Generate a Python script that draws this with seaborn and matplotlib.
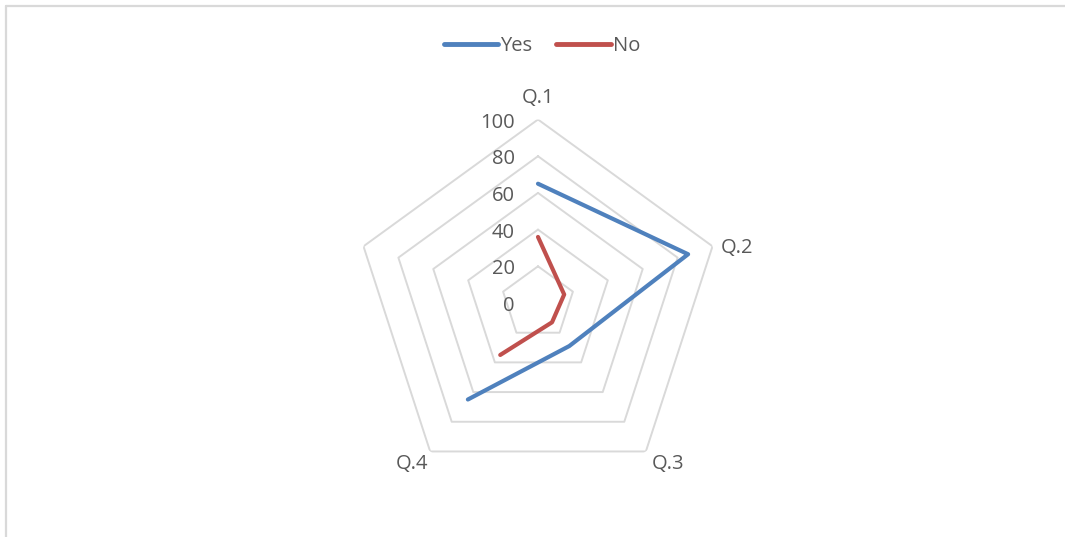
import numpy as np
import pandas as pd
import matplotlib
matplotlib.use("Agg")
import matplotlib.pyplot as plt
from matplotlib.lines import Line2D
import seaborn as sns

# ---- data ----
categories = ["Q.1", "Q.2", "Q.3", "Q.4", ""]
yes_values = [65, 86, 29, 65, np.nan]
no_values = [36, 15, 13, 35, np.nan]
ring_values = [20, 40, 60, 80, 100]
tick_labels = ["0", "20", "40", "60", "80", "100"]
series_names = ["Yes", "No"]

sns.set_theme(style="white")
plt.rcParams["font.family"] = ["Open Sans", "DejaVu Sans"]

TEXT = "#595959"
GRID = "#D9D9D9"
BLUE = "#4F81BD"
RED = "#C0504D"
FS = 14.5

W, H = 1065, 537
fig = plt.figure(figsize=(W / 100, H / 100), dpi=100)

cx, cy, R = 538, 303, 183.5
ax = fig.add_axes([(cx - R) / W, 1 - (cy + R) / H, 2 * R / W, 2 * R / H],
                  projection="polar")
ax.set_theta_zero_location("N")
ax.set_theta_direction(-1)
ax.set_ylim(0, 100)
ax.grid(False)
ax.set_xticks([])
ax.set_yticks([])
ax.spines["polar"].set_visible(False)
ax.patch.set_alpha(0)

n = len(categories)
angles = np.arange(n) * 2 * np.pi / n

# pentagon rings
for rv in ring_values:
    th = np.append(angles, angles[0])
    ax.plot(th, [rv] * (n + 1), color=GRID, lw=1.4, zorder=1)

# series
df = pd.DataFrame({
    "theta": np.concatenate([angles, angles]),
    "value": yes_values + no_values,
    "series": [series_names[0]] * n + [series_names[1]] * n,
}).dropna()
sns.lineplot(data=df, x="theta", y="value", hue="series",
             palette={"Yes": BLUE, "No": RED}, sort=False, estimator=None,
             lw=3, ax=ax, legend=False, zorder=3,
             solid_capstyle="round", solid_joinstyle="round")
ax.set_xlabel("")
ax.set_ylabel("")
ax.set_ylim(0, 100)

# radial tick labels
for i, lab in enumerate(tick_labels):
    ax.annotate(lab, xy=(0, i * 20), xytext=(-23, -3), textcoords="offset pixels",
                ha="right", va="center", fontsize=FS, color=TEXT)

# category labels
offsets = {
    0: ((0, 22), "center", "center"),
    1: ((8, -2), "left", "center"),
    2: ((6, -13), "left", "center"),
    3: ((-2, -13), "right", "center"),
    4: ((-8, -2), "right", "center"),
}
for i, lab in enumerate(categories):
    off, ha, va = offsets[i]
    ax.annotate(lab, xy=(angles[i], 100), xytext=off, textcoords="offset pixels",
                ha=ha, va=va, fontsize=FS, color=TEXT)

# legend
handles = [Line2D([], [], color=BLUE, lw=3.5, solid_capstyle="round"),
           Line2D([], [], color=RED, lw=3.5, solid_capstyle="round")]
leg = fig.legend(handles, series_names, loc="center", bbox_to_anchor=(542 / W, 1 - 46 / H),
                 ncol=2, frameon=False, fontsize=FS, handlelength=2.7,
                 handletextpad=0.1, columnspacing=1.2, labelcolor=TEXT)

# chart border (top and left visible)
fig.add_artist(Line2D([6 / W, 1.0], [1 - 5.5 / H, 1 - 5.5 / H], color=GRID, lw=1.6,
                      transform=fig.transFigure))
fig.add_artist(Line2D([6 / W, 6 / W], [0, 1 - 5.5 / H], color=GRID, lw=1.6,
                      transform=fig.transFigure))

fig.savefig("out.png", dpi=100, facecolor="white")
